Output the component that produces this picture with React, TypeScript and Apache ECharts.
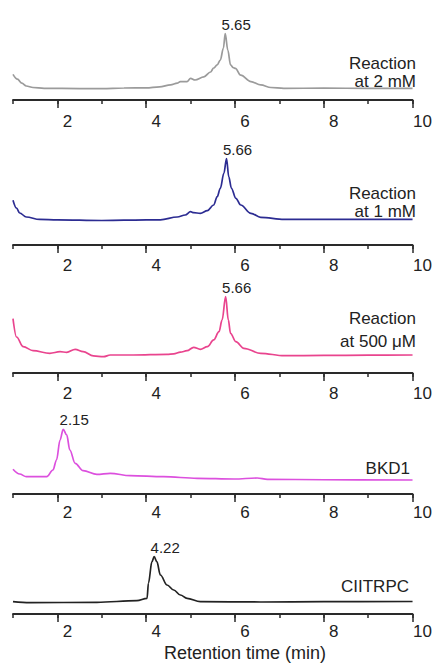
import React, { useEffect, useRef } from 'react';
import * as echarts from 'echarts';

// ---- data ----
const tickLabels = ['1', '2', '3', '4', '5', '6', '7', '8', '9', '10'];
const axisTitle = 'Retention time (min)';
const sampleNames: string[][] = [
  ['Reaction', 'at 2 mM'],
  ['Reaction', 'at 1 mM'],
  ['Reaction', 'at 500 μM'],
  ['BKD1'],
  ['CIITRPC'],
];
const peakLabels = ['5.65', '5.66', '5.66', '2.15', '4.22'];

const trace2mM: [number, number][] = [
  [1.0, 32], [1.1, 26], [1.2, 21], [1.3, 17.5], [1.45, 15.6], [1.7, 14.6], [2.5, 14.3], [3.0, 14.3],
  [3.5, 15], [4.0, 15.2], [4.3, 16.5], [4.55, 18.8], [4.7, 21], [4.77, 22.9], [4.92, 23], [5.0, 27],
  [5.1, 25], [5.3, 29], [5.45, 35], [5.52, 40], [5.6, 44], [5.67, 50], [5.74, 65], [5.78, 83],
  [5.84, 62], [5.9, 44], [5.96, 40.5], [6.01, 39.5], [6.13, 31], [6.36, 23], [6.58, 18.8], [6.81, 15.6],
  [7.1, 14.6], [8.0, 14.8], [9.0, 14.6], [10, 14.6],
];
const trace1mM: [number, number][] = [
  [1.0, 56], [1.08, 46], [1.15, 40], [1.3, 35], [1.6, 32], [2.0, 31.5], [3.0, 30.6], [3.5, 31],
  [4.0, 31.3], [4.32, 31.5], [4.7, 35], [4.88, 37.5], [5.0, 41.6], [5.07, 40.4], [5.22, 39.6], [5.38, 42.9],
  [5.52, 50], [5.6, 60.4], [5.67, 70.9], [5.75, 89.6], [5.81, 108], [5.86, 85.4], [5.92, 70.9], [6.02, 58.4],
  [6.13, 50], [6.36, 39.6], [6.58, 34.6], [7.11, 32], [8, 32], [9, 32], [10, 32],
];
const trace500uM: [number, number][] = [
  [1.0, 68], [1.08, 45], [1.23, 33], [1.45, 28], [1.83, 24.6], [2.06, 26.6], [2.21, 25.9], [2.4, 29.6],
  [2.58, 26.6], [2.81, 21.3], [3.04, 20.4], [3.19, 22.5], [3.71, 22.5], [4.47, 23.4], [4.62, 24], [4.77, 26],
  [4.92, 27.9], [5.07, 32.1], [5.22, 29.6], [5.38, 32.9], [5.52, 41.3], [5.64, 51.6], [5.71, 66.3], [5.79, 95.4],
  [5.85, 66.3], [5.9, 49.6], [6.02, 39.1], [6.2, 30.9], [6.58, 24.6], [7.11, 21.6], [8, 22], [9, 22.3], [10, 22.5],
];
const traceBKD1: [number, number][] = [
  [1.0, 30.9], [1.15, 25], [1.3, 21.6], [1.76, 21.6], [1.9, 30], [1.98, 42.5], [2.06, 67.5], [2.13, 80.9],
  [2.21, 73.8], [2.28, 55], [2.4, 38.4], [2.58, 29.1], [2.89, 24.6], [3.19, 25.9], [3.64, 22.9], [4.39, 21.6],
  [5.15, 19.6], [5.98, 18.75], [6.5, 20], [6.73, 18.4], [8, 17.8], [10, 17.5],
];
const traceCIITRPC: [number, number][] = [
  [1.0, 15.4], [1.38, 14.1], [2.89, 14.6], [3.79, 16.6], [4.02, 19.6], [4.05, 38.4], [4.13, 65.4], [4.18, 71.6],
  [4.24, 65.4], [4.32, 48.75], [4.47, 36.25], [4.62, 30], [4.77, 23.75], [4.92, 19.6], [5.22, 15.4], [6.58, 15],
  [8, 15.4], [10, 15.6],
];

const traces = [trace2mM, trace1mM, trace500uM, traceBKD1, traceCIITRPC];

// ---- styles / layout ----
const colors = ['#9b9b9b', '#2c2c92', '#e9448e', '#dc50de', '#222222'];
const axisYs = [100, 245, 373, 494, 614];
const labelMargins = [13, 12, 12, 10, 9];
const nameLayout = [
  { x: 416, ys: [63, 81] },
  { x: 416, ys: [193, 211] },
  { x: 416, ys: [318, 341] },
  { x: 410, ys: [468] },
  { x: 409, ys: [586] },
];
const FONT = '"Liberation Sans", Arial, sans-serif';
const GRID_H = 96;
const Y_MAX = 120;

export default function App() {
  const ref = useRef<HTMLDivElement>(null);
  useEffect(() => {
    document.body.style.margin = '0';
    const chart = echarts.init(ref.current!, null, { renderer: 'svg' });
    const grid: any[] = [];
    const xAxis: any[] = [];
    const yAxis: any[] = [];
    const series: any[] = [];
    const graphic: any[] = [];
    const axisColor = '#2a2a2a';
    traces.forEach((data, i) => {
      grid.push({ left: 13, width: 400, top: axisYs[i] - GRID_H, height: GRID_H });
      xAxis.push({
        type: 'value', gridIndex: i, min: 1, max: 10, interval: 1, position: 'bottom',
        axisLine: { show: true, lineStyle: { color: axisColor, width: 1.8 } },
        axisTick: { show: true, length: 4, lineStyle: { color: axisColor, width: 1.5 } },
        axisLabel: { show: false }, splitLine: { show: false },
      });
      xAxis.push({
        type: 'category', gridIndex: i, data: tickLabels, boundaryGap: false, position: 'bottom',
        axisLine: { show: false },
        axisTick: { show: true, length: 8, interval: (idx: number) => idx % 2 === 1, lineStyle: { color: axisColor, width: 1.5 } },
        axisLabel: {
          show: true, interval: (idx: number) => idx % 2 === 1, margin: labelMargins[i],
          fontSize: 17, color: '#222', fontFamily: FONT, padding: [0, 0, 0, 20],
        },
        splitLine: { show: false },
      });
      yAxis.push({ type: 'value', gridIndex: i, min: 0, max: Y_MAX, show: false, splitLine: { show: false } });
      const peak = data.reduce((a, b) => (b[1] > a[1] ? b : a));
      series.push({
        type: 'line', xAxisIndex: i * 2, yAxisIndex: i, data, showSymbol: false,
        smooth: 0.35, smoothMonotone: 'x',
        lineStyle: { color: colors[i], width: 1.7 }, itemStyle: { color: colors[i] },
        markPoint: {
          symbol: 'circle', symbolSize: 2, itemStyle: { color: 'rgba(0,0,0,0)' },
          label: {
            show: true, position: 'top', distance: 0, offset: [11, -1], formatter: peakLabels[i],
            fontSize: 15, color: '#222', fontFamily: FONT,
          },
          data: [{ coord: peak }],
        },
      });
      sampleNames[i].forEach((line, j) => {
        graphic.push({
          type: 'text', x: nameLayout[i].x, y: nameLayout[i].ys[j],
          style: { text: line, fill: '#222', font: `17px ${FONT}`, textAlign: 'right', textVerticalAlign: 'middle' },
        });
      });
    });
    graphic.push({
      type: 'text', x: 245, y: 653,
      style: { text: axisTitle, fill: '#222', font: `18px ${FONT}`, textAlign: 'center', textVerticalAlign: 'middle' },
    });
    chart.setOption({ animation: false, backgroundColor: '#fff', grid, xAxis, yAxis, series, graphic });
    return () => chart.dispose();
  }, []);
  return <div ref={ref} style={{ width: 435, height: 664 }} />;
}
